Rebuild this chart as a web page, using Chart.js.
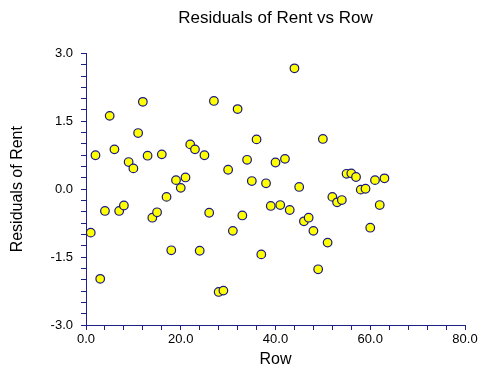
<!DOCTYPE html>
<html>
<head>
<meta charset="utf-8">
<script src="https://cdn.jsdelivr.net/npm/chart.js@4.4.1/dist/chart.umd.min.js"></script>
<style>
  html, body { margin: 0; padding: 0; background: #fff; }
  #wrap { width: 480px; height: 368px; }
</style>
</head>
<body>
<div id="wrap"><canvas id="grafico" width="480" height="368"></canvas></div>
<script>
// Row numbers and residuals
const filas = [];
for (let i = 1; i <= 63; i++) filas.push(i);
const residuos = [
  -0.96, 0.75, -1.98, -0.48, 1.62, 0.88, -0.48, -0.36, 0.60, 0.46,
  1.24, 1.93, 0.74, -0.63, -0.51, 0.77, -0.17, -1.35, 0.20, 0.03,
  0.26, 0.99, 0.88, -1.36, 0.75, -0.52, 1.95, -2.27, -2.24, 0.43,
  -0.92, 1.77, -0.58, 0.65, 0.18, 1.10, -1.44, 0.13, -0.37, 0.59,
  -0.35, 0.67, -0.46, 2.67, 0.05, -0.71, -0.63, -0.92, -1.77, 1.11,
  -1.18, -0.17, -0.29, -0.24, 0.34, 0.35, 0.27, -0.01, 0.01, -0.85,
  0.20, -0.35, 0.24
];
const xTicks = [0, 20, 40, 60, 80];
const yTicks = [-3, -1.5, 0, 1.5, 3];

const azul = '#1f1f8a';
const fuente = 'Arial, "Liberation Sans", sans-serif';
const ctx = document.getElementById('grafico').getContext('2d');

const puntos = filas.map((f, i) => ({ x: f, y: residuos[i] }));

function esMayor(v, lista) {
  return lista.some(t => Math.abs(t - v) < 1e-6);
}

new Chart(ctx, {
  type: 'scatter',
  data: {
    datasets: [{
      data: puntos,
      backgroundColor: '#ffff00',
      borderColor: '#1a1a80',
      borderWidth: 1.2,
      pointRadius: 4.3,
      pointHoverRadius: 4.3
    }]
  },
  options: {
    responsive: false,
    animation: false,
    layout: { padding: { left: 0, right: 15, top: 0, bottom: 0 } },
    plugins: {
      legend: { display: false },
      tooltip: { enabled: false },
      title: {
        display: true,
        fullSize: false,
        text: 'Residuals of Rent vs Row',
        color: '#000',
        font: { family: fuente, size: 17, weight: 'normal' },
        padding: { top: 8, bottom: 25 }
      }
    },
    scales: {
      x: {
        type: 'linear',
        min: 0,
        max: 80,
        afterFit: s => { s.height = 43; },
        border: { display: true, color: azul, width: 1 },
        grid: { drawOnChartArea: false, drawTicks: true, tickLength: 5, tickColor: azul },
        ticks: {
          stepSize: 4,
          autoSkip: false,
          maxRotation: 0,
          padding: 2,
          color: '#000',
          font: { family: fuente, size: 13 },
          callback: v => esMayor(v, xTicks) ? v.toFixed(1) : ''
        },
        title: {
          display: true,
          text: 'Row',
          color: '#000',
          font: { family: fuente, size: 16, lineHeight: 1 },
          padding: { top: 0, bottom: 0 }
        }
      },
      y: {
        type: 'linear',
        min: -3,
        max: 3,
        afterFit: s => { s.width = 86; },
        border: { display: true, color: azul, width: 1 },
        grid: { drawOnChartArea: false, drawTicks: true, tickLength: 5, tickColor: azul },
        ticks: {
          stepSize: 0.25,
          autoSkip: false,
          padding: 8,
          color: '#000',
          font: { family: fuente, size: 13 },
          callback: v => esMayor(v, yTicks) ? v.toFixed(1) : ''
        },
        title: {
          display: true,
          text: 'Residuals of Rent',
          color: '#000',
          font: { family: fuente, size: 16 },
          padding: { top: 8, bottom: 0 }
        }
      }
    }
  }
});
</script>
</body>
</html>
